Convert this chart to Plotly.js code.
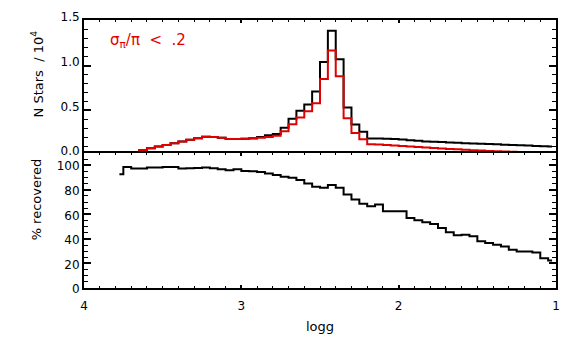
<!DOCTYPE html>
<html>
<head>
<meta charset="utf-8">
<script src="https://cdn.plot.ly/plotly-3.0.1.min.js"></script>
<style>
  body { margin: 0; background: #fff; }
  #grafico { width: 574px; height: 347px; }
</style>
</head>
<body>
<div id="grafico"></div>
<script>
// bin centres in logg (bins of 0.05, from 3.775 down to 1.025)
var logg = [
  3.775, 3.725, 3.675, 3.625, 3.575, 3.525, 3.475, 3.425, 3.375, 3.325,
  3.275, 3.225, 3.175, 3.125, 3.075, 3.025, 2.975, 2.925, 2.875, 2.825,
  2.775, 2.725, 2.675, 2.625, 2.575, 2.525, 2.475, 2.425, 2.375, 2.325,
  2.275, 2.225, 2.175, 2.125, 2.075, 2.025, 1.975, 1.925, 1.875, 1.825,
  1.775, 1.725, 1.675, 1.625, 1.575, 1.525, 1.475, 1.425, 1.375, 1.325,
  1.275, 1.225, 1.175, 1.125, 1.075, 1.025
];

// all stars, N / 10^4
var nTodas = [
  0.008, 0.015, 0.034, 0.056, 0.075, 0.094, 0.112, 0.132, 0.150, 0.170,
  0.188, 0.203, 0.200, 0.192, 0.178, 0.180, 0.183, 0.187, 0.200, 0.220,
  0.235, 0.305, 0.405, 0.495, 0.565, 0.710, 1.040, 1.390, 1.070, 0.530,
  0.340, 0.260, 0.185, 0.184, 0.182, 0.178, 0.172, 0.165, 0.158, 0.152,
  0.148, 0.145, 0.140, 0.138, 0.132, 0.128, 0.126, 0.124, 0.120, 0.115,
  0.112, 0.110, 0.106, 0.102, 0.099, 0.096
];

// sigma_pi / pi < .2
var nParalaxe = [
  0.008, 0.015, 0.034, 0.056, 0.075, 0.094, 0.112, 0.132, 0.150, 0.170,
  0.188, 0.203, 0.200, 0.192, 0.178, 0.180, 0.182, 0.185, 0.193, 0.200,
  0.215, 0.265, 0.345, 0.420, 0.490, 0.580, 0.850, 1.170, 0.880, 0.410,
  0.245, 0.175, 0.120, 0.117, 0.112, 0.106, 0.100, 0.095, 0.089, 0.083,
  0.078, 0.073, 0.068, 0.063, 0.058, 0.054, 0.050, 0.046, 0.043, 0.039,
  0.035, 0.031, 0.028, 0.025, 0.022, 0.019
];

// % recovered
var recuperado = [
  92.6, 98.6, 97.4, 97.3, 98.1, 98.1, 98.6, 98.6, 97.3, 97.5,
  97.8, 98.1, 97.5, 96.7, 95.9, 96.7, 95.4, 95.2, 94.5, 93.2,
  92.1, 90.7, 89.9, 88.0, 85.2, 82.5, 81.7, 83.9, 81.7, 76.2,
  72.1, 68.6, 66.6, 68.0, 62.6, 62.6, 62.6, 57.1, 55.2, 53.6,
  52.2, 48.9, 45.4, 42.9, 43.4, 42.1, 38.0, 36.6, 35.2, 33.9,
  31.1, 29.8, 29.8, 29.0, 24.3, 22.4
];

var fonte = { family: "DejaVu Sans", size: 13, color: "black" };
var fonteTicks = { family: "DejaVu Sans", size: 12, color: "black" };
var meio = 1 / 268; // one pixel of plot height, so the two frame lines in the middle coincide

var trace1 = {
  x: logg, y: nTodas, xaxis: "x", yaxis: "y",
  type: "scatter", mode: "lines",
  line: { shape: "hvh", color: "black", width: 2 },
  hoverinfo: "skip"
};

var trace2 = {
  x: logg, y: nParalaxe, xaxis: "x", yaxis: "y",
  type: "scatter", mode: "lines",
  line: { shape: "hvh", color: "rgb(225,0,0)", width: 2 },
  hoverinfo: "skip"
};

var trace3 = {
  x: logg, y: recuperado, xaxis: "x2", yaxis: "y2",
  type: "scatter", mode: "lines",
  line: { shape: "hvh", color: "black", width: 2 },
  hoverinfo: "skip"
};

function eixoX(ancora, comRotulos) {
  return {
    anchor: ancora, range: [4, 1], showticklabels: comRotulos,
    tickmode: "linear", tick0: 1, dtick: 1,
    ticks: "inside", ticklen: 3, tickwidth: 2, tickcolor: "black",
    minor: { tickmode: "linear", tick0: 1, dtick: 0.1, ticks: "inside", ticklen: 2, tickwidth: 1, tickcolor: "black" },
    showline: true, linewidth: 2, linecolor: "black", mirror: "allticks",
    showgrid: false, zeroline: false,
    ticklabelstandoff: 6,
    tickfont: fonteTicks
  };
}

var layout = {
  width: 574, height: 347,
  margin: { l: 84, r: 18, t: 20, b: 59 },
  paper_bgcolor: "white", plot_bgcolor: "white",
  showlegend: false,
  font: fonte,
  xaxis: eixoX("y", false),
  xaxis2: eixoX("y2", true),
  yaxis: {
    domain: [0.5 - meio, 1], range: [0, 1.51],
    tickmode: "linear", tick0: 0, dtick: 0.5, tickformat: ".1f",
    ticks: "inside", ticklen: 7, tickwidth: 2, tickcolor: "black",
    minor: { tickmode: "linear", tick0: 0, dtick: 0.1, ticks: "inside", ticklen: 4, tickwidth: 1, tickcolor: "black" },
    showline: true, linewidth: 2, linecolor: "black", mirror: "allticks",
    showgrid: false, zeroline: false,
    ticklabelshift: -4,
    tickfont: fonteTicks
  },
  yaxis2: {
    domain: [0, 0.5 + meio], range: [0, 110],
    tickmode: "linear", tick0: 0, dtick: 20,
    ticks: "inside", ticklen: 7, tickwidth: 2, tickcolor: "black",
    minor: { tickmode: "linear", tick0: 0, dtick: 5, ticks: "inside", ticklen: 4, tickwidth: 1, tickcolor: "black" },
    showline: true, linewidth: 2, linecolor: "black", mirror: "allticks",
    showgrid: false, zeroline: false,
    ticklabelshift: 1,
    tickfont: fonteTicks
  },
  annotations: [
    {
      text: "N Stars  / 10<sup>4</sup>",
      xref: "paper", yref: "paper", x: -0.1, y: 0.8,
      xanchor: "center", yanchor: "middle", textangle: -90,
      showarrow: false, font: fonte
    },
    {
      text: "% recovered",
      xref: "paper", yref: "paper", x: -0.1, y: 0.33,
      xanchor: "center", yanchor: "middle", textangle: -90,
      showarrow: false, font: fonte
    },
    {
      text: "logg",
      xref: "paper", yref: "paper", x: 0.5, y: -0.142,
      xanchor: "center", yanchor: "middle",
      showarrow: false, font: fonte
    },
    {
      text: "σ<sub>π</sub>/π  <  .2",
      xref: "paper", yref: "paper", x: 0.05, y: 0.925,
      xanchor: "left", yanchor: "middle",
      showarrow: false,
      font: { family: "DejaVu Sans", size: 15, color: "rgb(225,0,0)" }
    }
  ]
};

Plotly.newPlot("grafico", [trace1, trace2, trace3], layout, { displayModeBar: false });
</script>
</body>
</html>
